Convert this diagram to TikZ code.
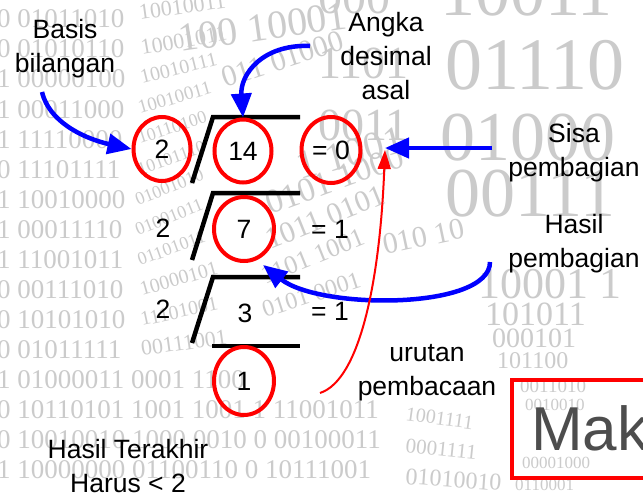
\documentclass[tikz,border=0pt]{standalone}
\usepackage{fontspec}
\setmainfont{Liberation Sans}
\newfontfamily\bgserif{Liberation Serif}
\usetikzlibrary{arrows.meta,shapes.geometric}
\definecolor{bgc}{RGB}{203,203,203}
\definecolor{makgray}{RGB}{77,77,77}
\definecolor{pblue}{RGB}{0,0,255}
\definecolor{pred}{RGB}{255,0,0}
\begin{document}
\begin{tikzpicture}[x=1pt,y=-1pt,
  lbl/.style={font=\fontsize{26.5}{34}\selectfont, align=center, inner sep=0pt, anchor=north},
  num/.style={font=\fontsize{26.5}{34}\selectfont, inner sep=0pt, anchor=base},
  ring/.style={ellipse, draw=pred, line width=4pt, inner sep=0pt, font=\fontsize{26.5}{34}\selectfont},
  bar/.style={line width=4.5pt, draw=black},
  bluearrow/.style={draw=pblue, line width=4.5pt, -{Triangle[length=24pt,width=20pt]}},
  redarrow/.style={draw=pred, line width=2pt, -{Triangle[length=19pt,width=13pt]}},
  bgf/.style={font=\bgserif\fontsize{#1}{#1}\selectfont, text=bgc, inner sep=0pt, anchor=base west}]
\useasboundingbox (0,0) rectangle (643,495);
\clip (0,0) rectangle (643,495);
\fill[white] (0,0) rectangle (643,495);

% ---- background binary texture (approximation) ----
\node[bgf=27] at (-3,28) {0 01011010};
\node[bgf=27] at (-3,58) {0 01010110};
\node[bgf=27] at (-3,88) {1 00000100};
\node[bgf=27] at (-3,118) {1 00011000};
\node[bgf=27] at (-3,148) {1 11110000};
\node[bgf=27] at (-3,178) {0 11101111};
\node[bgf=27] at (-3,208) {1 10010000};
\node[bgf=27] at (-3,238) {1 00011110};
\node[bgf=27] at (-3,268) {1 11001011};
\node[bgf=27] at (-3,298) {0 00111010};
\node[bgf=27] at (-3,328) {0 10101010};
\node[bgf=27] at (-3,358) {0 01011111};
\node[bgf=27] at (-3,388) {1 01000011 0001 1100};
\node[bgf=27] at (-3,418) {0 10110101 1001 1001 1 11001011};
\node[bgf=27] at (-3,448) {0 10010010 1000 0010 0 00100011};
\node[bgf=27] at (-3,478) {1 10000000 01100110 0 10111001};
% warped middle groups
\node[bgf=22, rotate=8] at (140,20) {10010011};
\node[bgf=22, rotate=10] at (142,55) {10001011};
\node[bgf=20, rotate=14] at (142,84) {10010111};
\node[bgf=19, rotate=16] at (140,114) {10010011};
\node[bgf=18, rotate=18] at (140,144) {10110100};
\node[bgf=18, rotate=20] at (140,176) {10101110};
\node[bgf=18, rotate=22] at (138,206) {01001010};
\node[bgf=18, rotate=22] at (138,236) {01001011};
\node[bgf=18, rotate=20] at (140,266) {01101011};
\node[bgf=20, rotate=16] at (142,296) {10000101};
\node[bgf=20, rotate=12] at (142,326) {11101001};
\node[bgf=22, rotate=8] at (142,356) {00111001};
\node[bgf=40, rotate=8] at (180,52) {100 10001};
\node[bgf=30, rotate=18] at (225,88) {011 01000};
% right and centre
\node[bgf=48] at (318,14) {000};
\node[bgf=70] at (440,16) {10011};
\node[bgf=46] at (318,78) {1101};
\node[bgf=74] at (445,90) {01110};
\node[bgf=46] at (318,140) {0011};
\node[bgf=70] at (440,160) {01000};
\node[bgf=40, rotate=15] at (300,180) {1 1001};
\node[bgf=70] at (445,216) {00111};
\node[bgf=34, rotate=20] at (270,215) {0101 1000};
\node[bgf=30, rotate=22] at (270,250) {1011 0101};
\node[bgf=30, rotate=12] at (385,255) {010 10};
\node[bgf=26, rotate=22] at (265,285) {1101 1001};
\node[bgf=24, rotate=18] at (265,318) {0101 0001};
\node[bgf=44] at (478,298) {10001 1};
\node[bgf=34] at (485,325) {101011};
\node[bgf=28] at (492,347) {000101};
\node[bgf=24] at (497,368) {101100};
\node[bgf=19] at (520,392) {0011010};
\node[bgf=17] at (525,410) {0010010};
\node[bgf=17] at (522,468) {00001000};
\node[bgf=17] at (515,490) {0110001};
\node[bgf=20, rotate=-8] at (405,420) {1001111};
\node[bgf=21, rotate=-6] at (405,452) {0001111};
\node[bgf=24, rotate=-4] at (405,484) {01010010};

% ---- division scheme ----
\draw[bar] (192,183) -- (213,117) -- (300,117);
\draw[bar] (192,260) -- (213,193) -- (300,193);
\draw[bar] (192,343) -- (213,277) -- (300,277);
\draw[bar] (212,346) -- (300,346);

\node[ring, minimum width=57pt, minimum height=64pt] (c2) at (162,149) {2};
\node[ring, minimum width=57pt, minimum height=63pt] (c14) at (243,151) {14};
\node[ring, minimum width=59pt, minimum height=66pt] (c0) at (331,150) {= 0};
\node[ring, minimum width=60pt, minimum height=64pt] (c7) at (244,229) {7};
\node[ring, minimum width=60pt, minimum height=68pt] (c1) at (244,381) {1};

\node[num] (d2) at (163,237) {2};
\node[num] (r1) at (330,238) {= 1};
\node[num] (d3) at (163,318) {2};
\node[num] (q3) at (245,322) {3};
\node[num] (r2) at (330,320) {= 1};

% ---- labels ----
\node[lbl] (basis) at (65,19) {Basis\\bilangan};
\node[lbl] (angka) at (386,12) {Angka\\desimal\\asal};
\node[lbl] (sisa) at (574,123) {Sisa\\pembagian};
\node[lbl] (hasil) at (574,214) {Hasil\\pembagian};
\node[lbl] (urutan) at (427,344) {urutan\\pembacaan};
\node[lbl] (akhir) at (128,439) {Hasil Terakhir\\Harus < 2};

% ---- connectors ----
\coordinate (basisS) at (42,92);
\coordinate (angkaS) at (310,46);
\coordinate (sisaS) at (492,148);
\coordinate (sisaT) at (385,148);
\coordinate (hasilS) at (490,262);
\coordinate (hasilT) at (263,265);
\coordinate (urutS) at (320,393);
\coordinate (readT) at (385,150);

\draw[bluearrow] (basisS) .. controls (50,125) and (90,140) .. (c2.west);
\draw[bluearrow] (angkaS) .. controls (262,44) and (240,75) .. (c14.north);
\draw[bluearrow] (sisaS) -- (sisaT);
\draw[bluearrow] (hasilS) .. controls (490,310) and (320,310) .. (hasilT);
\draw[redarrow] (urutS) .. controls (360,380) and (380,280) .. (readT);

% ---- boxed word ----
\draw[pred, line width=3.5pt] (512,380) rectangle (660,478);
\node[font=\fontsize{62}{62}\selectfont, text=makgray, anchor=base west, inner sep=0pt] (mak) at (531,450) {Mak};
\end{tikzpicture}
\end{document}
